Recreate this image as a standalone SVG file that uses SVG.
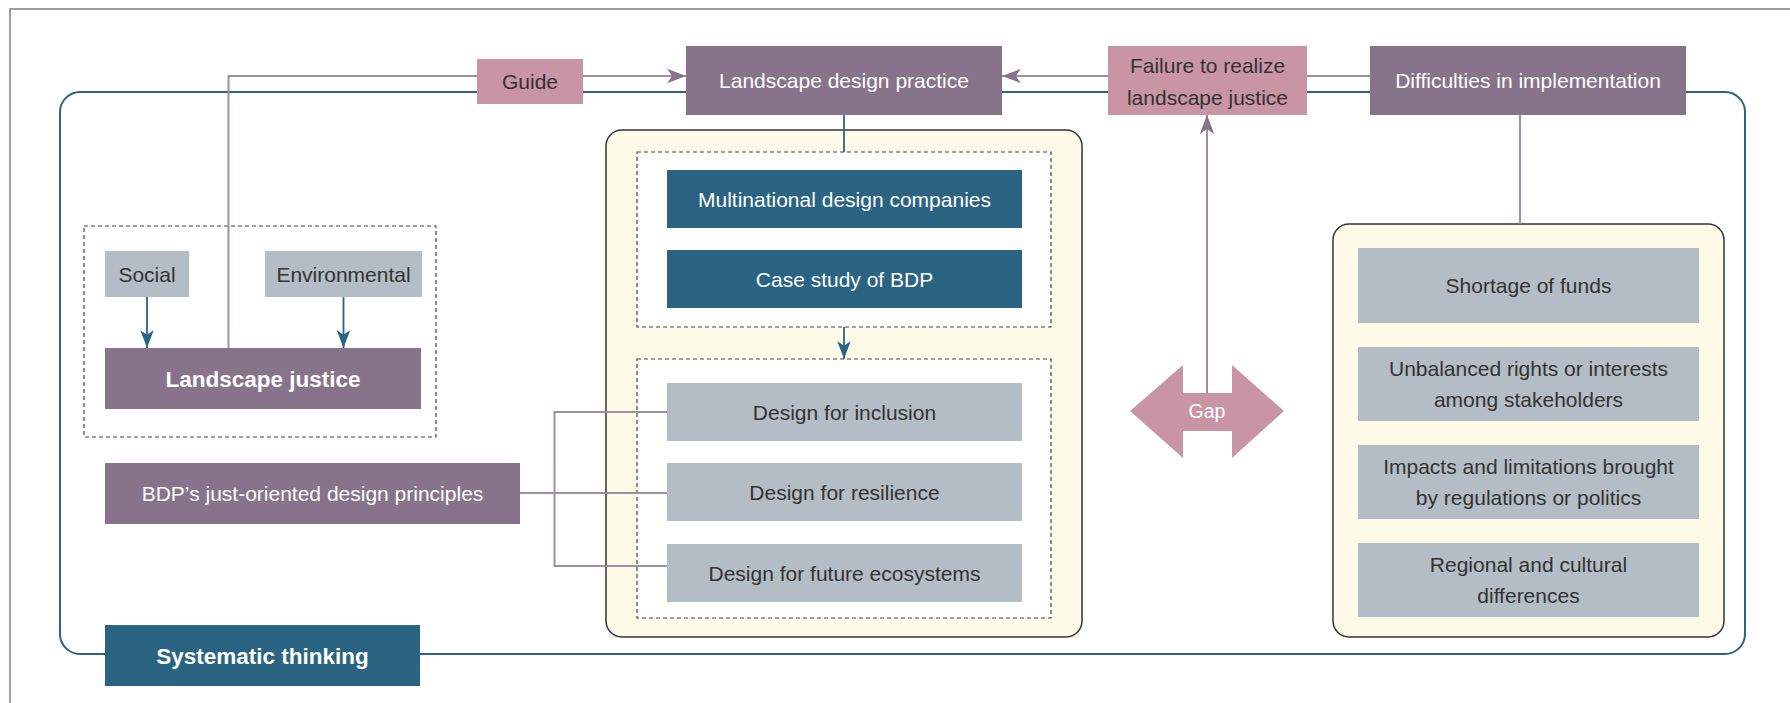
<svg xmlns="http://www.w3.org/2000/svg" width="1790" height="703" viewBox="0 0 1790 703">
<defs>
<style>
text{font-family:"Liberation Sans",Arial,sans-serif;font-size:21px;text-anchor:middle;}
.dk{fill:#333333;}
.wt{fill:#ffffff;}
.b{font-weight:bold;font-size:22.5px;}
.mauve{fill:#87738a;}
.pink{fill:#c994a4;}
.blue{fill:#2b6382;}
.gray{fill:#b4bcc5;}
.yel{fill:#fefbe8;stroke:#333333;stroke-width:1.5;}
.dash{fill:#ffffff;stroke:#444444;stroke-width:1.2;stroke-dasharray:4 3;}
.dashn{fill:none;stroke:#444444;stroke-width:1.2;stroke-dasharray:4 3;}
.cm{fill:none;stroke:#a28ea2;stroke-width:2;}
.cb{fill:none;stroke:#2b6382;stroke-width:1.8;}
</style>
<marker id="am" markerUnits="userSpaceOnUse" markerWidth="20" markerHeight="16" viewBox="-17 -7 18 14" refX="0" refY="0" orient="auto">
<path d="M0,0 L-17,-6.5 L-12.5,0 L-17,6.5 Z" fill="#87738a"/>
</marker>
<marker id="ab" markerUnits="userSpaceOnUse" markerWidth="20" markerHeight="16" viewBox="-17 -7 18 14" refX="0" refY="0" orient="auto">
<path d="M0,0 L-16,-6 L-12,0 L-16,6 Z" fill="#2b6382"/>
</marker>
</defs>
<rect width="1790" height="703" fill="#ffffff"/>
<path d="M10,703 V9 H1790" fill="none" stroke="#808080" stroke-width="1.5"/>

<g id="systematic-thinking">
<rect x="60" y="92" width="1685" height="562" rx="20" fill="none" stroke="#2b6382" stroke-width="2"/>
<rect x="105" y="625" width="315" height="61" class="blue"/>
<text x="262.5" y="663.5" class="wt b">Systematic thinking</text>
</g>

<g id="middle-panel">
<rect x="606" y="130" width="476" height="507" rx="16" class="yel"/>
<rect x="637" y="152" width="414" height="175" class="dash"/>
<rect x="637" y="359" width="414" height="259" class="dash"/>
</g>

<g id="right-panel">
<rect x="1333" y="224" width="391" height="413" rx="16" class="yel"/>
</g>

<g id="landscape-justice-group">
<rect x="84" y="226" width="352" height="211" class="dashn"/>
</g>

<g id="connectors">
<path d="M228.5,348 V76 H477" class="cm"/>
<path d="M583,76 H686" class="cm" marker-end="url(#am)"/>
<path d="M1108,76 H1002" class="cm" marker-end="url(#am)"/>
<path d="M1370,76 H1307" class="cm"/>
<path d="M1207,393 V115" class="cm" marker-end="url(#am)"/>
<path d="M1520,115 V224" class="cm"/>
<path d="M844,115 V152" class="cb"/>
<path d="M844,327 V359" class="cb" marker-end="url(#ab)"/>
<path d="M147,297 V348" class="cb" marker-end="url(#ab)"/>
<path d="M343.5,297 V348" class="cb" marker-end="url(#ab)"/>
<path d="M520,493 H667" class="cm"/>
<path d="M667,412 H554.5 V566 H667" class="cm"/>
</g>

<g id="guide">
<rect x="477" y="59" width="106" height="45" class="pink"/>
<text x="530" y="89" class="dk">Guide</text>
</g>
<g id="landscape-design-practice">
<rect x="686" y="46" width="316" height="69" class="mauve"/>
<text x="844" y="88" class="wt">Landscape design practice</text>
</g>
<g id="failure">
<rect x="1108" y="46" width="199" height="69" class="pink"/>
<text x="1207.5" y="73" class="dk">Failure to realize</text>
<text x="1207.5" y="104.5" class="dk">landscape justice</text>
</g>
<g id="difficulties">
<rect x="1370" y="46" width="316" height="69" class="mauve"/>
<text x="1528" y="88" class="wt">Difficulties in implementation</text>
</g>

<g id="social">
<rect x="105" y="251" width="84" height="46" class="gray"/>
<text x="147" y="281.5" class="dk">Social</text>
</g>
<g id="environmental">
<rect x="265" y="251" width="157" height="46" class="gray"/>
<text x="343.5" y="281.5" class="dk">Environmental</text>
</g>
<g id="landscape-justice">
<rect x="105" y="348" width="316" height="61" class="mauve"/>
<text x="263" y="386.5" class="wt b">Landscape justice</text>
</g>
<g id="bdp-principles">
<rect x="105" y="463" width="415" height="61" class="mauve"/>
<text x="312.5" y="501" class="wt">BDP’s just-oriented design principles</text>
</g>

<g id="multinational">
<rect x="667" y="170" width="355" height="58" class="blue"/>
<text x="844.5" y="206.5" class="wt">Multinational design companies</text>
</g>
<g id="case-study">
<rect x="667" y="250" width="355" height="58" class="blue"/>
<text x="844.5" y="286.5" class="wt">Case study of BDP</text>
</g>
<g id="design-inclusion">
<rect x="667" y="383" width="355" height="58" class="gray"/>
<text x="844.5" y="419.5" class="dk">Design for inclusion</text>
</g>
<g id="design-resilience">
<rect x="667" y="463" width="355" height="58" class="gray"/>
<text x="844.5" y="499.5" class="dk">Design for resilience</text>
</g>
<g id="design-future">
<rect x="667" y="544" width="355" height="58" class="gray"/>
<text x="844.5" y="580.5" class="dk">Design for future ecosystems</text>
</g>

<g id="gap">
<polygon points="1130,411 1183,365 1183,393 1232,393 1232,365 1284,411 1232,458 1232,431 1183,431 1183,458" class="pink"/>
<text x="1207" y="418" class="wt" style="font-size:19.5px">Gap</text>
</g>

<g id="shortage">
<rect x="1358" y="248" width="341" height="75" class="gray"/>
<text x="1528.5" y="293" class="dk">Shortage of funds</text>
</g>
<g id="unbalanced">
<rect x="1358" y="347" width="341" height="74" class="gray"/>
<text x="1528.5" y="375.75" class="dk">Unbalanced rights or interests</text>
<text x="1528.5" y="407.25" class="dk">among stakeholders</text>
</g>
<g id="impacts">
<rect x="1358" y="445" width="341" height="74" class="gray"/>
<text x="1528.5" y="473.75" class="dk">Impacts and limitations brought</text>
<text x="1528.5" y="505.25" class="dk">by regulations or politics</text>
</g>
<g id="regional">
<rect x="1358" y="543" width="341" height="74" class="gray"/>
<text x="1528.5" y="571.75" class="dk">Regional and cultural</text>
<text x="1528.5" y="603.25" class="dk">differences</text>
</g>
</svg>
